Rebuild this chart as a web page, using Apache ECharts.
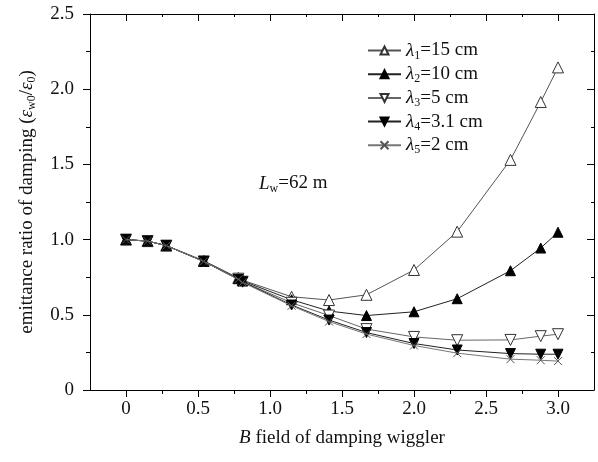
<!DOCTYPE html>
<html>
<head>
<meta charset="utf-8">
<script src="https://cdn.jsdelivr.net/npm/echarts@6/dist/echarts.min.js"></script>
<style>
html,body{margin:0;padding:0;background:#fff;}
#chart{width:598px;height:462px;}
</style>
</head>
<body>
<div id="chart"></div>
<script>
// ---- data ----
var bField = [0, 0.15, 0.28, 0.54, 0.78, 0.81, 1.15, 1.41, 1.67, 2.0, 2.3, 2.67, 2.88, 3.0];
var lambda1 = [1.0, 0.99, 0.96, 0.86, 0.745, 0.73, 0.62, 0.598, 0.633, 0.798, 1.053, 1.53, 1.915, 2.145];
var lambda2 = [1.0, 0.99, 0.96, 0.855, 0.74, 0.725, 0.60, 0.525, 0.495, 0.52, 0.607, 0.793, 0.944, 1.049];
var lambda3 = [1.0, 0.99, 0.96, 0.855, 0.74, 0.72, 0.58, 0.495, 0.405, 0.353, 0.331, 0.333, 0.358, 0.371];
var lambda4 = [1.0, 0.99, 0.96, 0.855, 0.735, 0.72, 0.565, 0.465, 0.382, 0.309, 0.266, 0.242, 0.238, 0.238];
var lambda5 = [1.0, 0.99, 0.96, 0.855, 0.735, 0.715, 0.56, 0.455, 0.372, 0.296, 0.245, 0.205, 0.198, 0.192];
var lambdaIndex = ['1', '2', '3', '4', '5'];
var wavelengths = ['15 cm', '10 cm', '5 cm', '3.1 cm', '2 cm'];
var xMajorTicks = [0, 0.5, 1.0, 1.5, 2.0, 2.5, 3.0];
var xMinorTicks = [0.25, 0.75, 1.25, 1.75, 2.25, 2.75];
var yMin = 0, yMax = 2.5, yStep = 0.5;
var xMin = -0.25, xMax = 3.25;

// ---- chart ----
var FONT = '"Liberation Serif", "Times New Roman", serif';
var seriesValues = [lambda1, lambda2, lambda3, lambda4, lambda5];
var seriesNames = lambdaIndex.map(function (k, i) { return 'λ' + k + '=' + wavelengths[i]; });
var fmt = function (v) { return v === 0 ? '0' : v.toFixed(1); };

var styles = [
  { symbol: 'triangle', rotate: 0, fill: '#ffffff', border: '#333', line: '#555', size: 11 },
  { symbol: 'triangle', rotate: 0, fill: '#000000', border: '#000', line: '#222', size: 10 },
  { symbol: 'triangle', rotate: 180, fill: '#ffffff', border: '#333', line: '#666', size: 11 },
  { symbol: 'triangle', rotate: 180, fill: '#000000', border: '#000', line: '#222', size: 10 },
  { symbol: 'path://M0,0L10,10M10,0L0,10', rotate: 0, fill: 'none', border: '#555', line: '#777', size: 8 }
];

var series = seriesValues.map(function (vals, i) {
  var s = styles[i];
  return {
    name: seriesNames[i],
    type: 'line',
    xAxisIndex: 0,
    yAxisIndex: 0,
    data: bField.map(function (b, j) { return [b, vals[j]]; }),
    symbol: s.symbol,
    symbolRotate: s.rotate,
    symbolSize: s.size,
    showAllSymbol: true,
    lineStyle: { color: s.line, width: 1 },
    itemStyle: { color: s.fill, borderColor: s.border, borderWidth: 1, opacity: 1 },
    emphasis: { disabled: true },
    z: 2 + i
  };
});

var subRich = {
  i: { fontFamily: FONT, fontSize: 19, fontStyle: 'italic', color: '#111', lineHeight: 22, verticalAlign: 'middle' },
  t: { fontFamily: FONT, fontSize: 19, color: '#111', lineHeight: 22 },
  s: { fontFamily: FONT, fontSize: 12, color: '#111', lineHeight: 12, verticalAlign: 'bottom' }
};

var chart = echarts.init(document.getElementById('chart'), null, { renderer: 'canvas' });
chart.setOption({
  animation: false,
  backgroundColor: '#fff',
  grid: { left: 90, right: 4, top: 14, bottom: 72, containLabel: false },
  legend: {
    orient: 'vertical',
    left: 362,
    top: 36,
    itemWidth: 33,
    itemHeight: 10,
    itemGap: 3.2,
    data: seriesNames,
    formatter: function (name) {
      var i = seriesNames.indexOf(name);
      return '{i|λ}{s|' + lambdaIndex[i] + '}{t|=' + wavelengths[i] + '}';
    },
    textStyle: { fontFamily: FONT, fontSize: 19, color: '#111', rich: subRich },
    selectedMode: false
  },
  xAxis: [
    {
      type: 'value', position: 'bottom', min: xMin, max: xMax,
      name: '{i|B}{t| field of damping wiggler}',
      nameLocation: 'middle', nameGap: 37,
      nameTextStyle: { fontFamily: FONT, fontSize: 19, color: '#111', rich: subRich },
      axisLine: { show: true, onZero: false, lineStyle: { color: '#000', width: 1 } },
      axisTick: { show: true, inside: false, length: 7, customValues: xMajorTicks, lineStyle: { color: '#000' } },
      axisLabel: { show: true, margin: 10, customValues: xMajorTicks, formatter: fmt, fontFamily: FONT, fontSize: 19, color: '#111' },
      splitLine: { show: false }
    },
    {
      type: 'value', position: 'bottom', min: xMin, max: xMax,
      axisLine: { show: false, onZero: false },
      axisTick: { show: true, inside: false, length: 4, customValues: xMinorTicks, lineStyle: { color: '#000' } },
      axisLabel: { show: false },
      splitLine: { show: false }
    },
    {
      type: 'value', position: 'top', min: xMin, max: xMax,
      axisLine: { show: true, onZero: false, lineStyle: { color: '#000', width: 1 } },
      axisTick: { show: true, inside: true, length: 7, customValues: xMajorTicks, lineStyle: { color: '#000' } },
      axisLabel: { show: false },
      splitLine: { show: false }
    },
    {
      type: 'value', position: 'top', min: xMin, max: xMax,
      axisLine: { show: false, onZero: false },
      axisTick: { show: true, inside: true, length: 3, customValues: xMinorTicks, lineStyle: { color: '#000' } },
      axisLabel: { show: false },
      splitLine: { show: false }
    }
  ],
  yAxis: [
    {
      type: 'value', position: 'left', min: yMin, max: yMax, interval: yStep,
      name: '{t|emittance ratio of damping (}{i|ε}{s|w0}{t|/}{i|ε}{s|0}{t|)}',
      nameLocation: 'middle', nameGap: 52,
      nameTextStyle: { fontFamily: FONT, fontSize: 19, color: '#111', rich: subRich },
      axisLine: { show: true, onZero: false, lineStyle: { color: '#000', width: 1 } },
      axisTick: { show: true, inside: false, length: 7, lineStyle: { color: '#000' } },
      minorTick: { show: true, splitNumber: 2, length: 4, lineStyle: { color: '#000' } },
      axisLabel: { show: true, margin: 16, formatter: fmt, fontFamily: FONT, fontSize: 19, color: '#111' },
      splitLine: { show: false },
      minorSplitLine: { show: false }
    },
    {
      type: 'value', position: 'right', min: yMin, max: yMax, interval: yStep,
      axisLine: { show: true, onZero: false, lineStyle: { color: '#000', width: 1 } },
      axisTick: { show: true, inside: true, length: 7, lineStyle: { color: '#000' } },
      minorTick: { show: true, splitNumber: 2, length: 3, lineStyle: { color: '#000' } },
      axisLabel: { show: false },
      splitLine: { show: false },
      minorSplitLine: { show: false }
    }
  ],
  graphic: [
    {
      type: 'text', left: 259, top: 174,
      style: {
        text: '{i|L}{s|w}{t|=62 m}',
        fontFamily: FONT, fontSize: 19, fill: '#111',
        rich: subRich
      }
    }
  ],
  series: series
});
</script>
</body>
</html>
